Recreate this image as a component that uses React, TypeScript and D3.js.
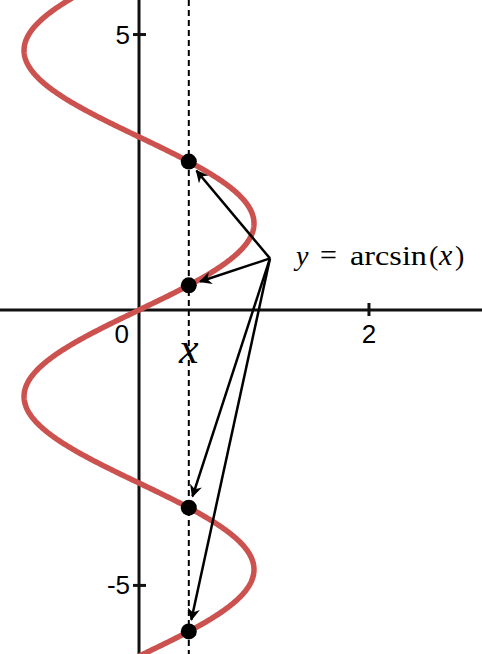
import React, { useEffect, useRef } from "react";
import * as d3 from "d3";

const W = 482;
const H = 654;

// domain
const xDomain = [-1.209, 2.983];
const yDomain = [-6.245, 5.627];
const xTicks = [2];
const yTicks = [5, -5];
const xTickLabels = ["2"];
const yTickLabels = ["5", "-5"];
const chosenX = 0.433;
// y values where the dashed line crosses the curve x = sin(y)
const hitY = [
  Math.asin(chosenX),
  Math.PI - Math.asin(chosenX),
  -Math.PI - Math.asin(chosenX),
  -2 * Math.PI + Math.asin(chosenX),
];
const labelAnchor = [1.139, 0.936];
// pieces of the formula label: text, italic, x offset from the label start
const labelParts = [
  { t: "y", it: true, dx: 0 },
  { t: "=", it: false, dx: 24 },
  { t: "arcsin", it: false, dx: 54 },
  { t: "(", it: false, dx: 133 },
  { t: "x", it: true, dx: 143 },
  { t: ")", it: false, dx: 159 },
];

const App = () => {
  const svgRef = useRef<SVGSVGElement>(null);

  useEffect(() => {
    document.body.style.margin = "0";
    const svg = d3.select(svgRef.current);
    svg.selectAll("*").remove();

    const x = d3.scaleLinear().domain(xDomain).range([0, W]);
    const y = d3.scaleLinear().domain(yDomain).range([H, 0]);

    // arrow head
    svg
      .append("defs")
      .append("marker")
      .attr("id", "head")
      .attr("viewBox", "0 0 10 10")
      .attr("refX", 9)
      .attr("refY", 5)
      .attr("markerWidth", 5)
      .attr("markerHeight", 5)
      .attr("markerUnits", "strokeWidth")
      .attr("orient", "auto")
      .append("path")
      .attr("d", "M0,0 L10,5 L0,10 L3,5 Z")
      .attr("fill", "#000");

    // axes
    svg
      .append("line")
      .attr("x1", 0)
      .attr("x2", W)
      .attr("y1", y(0))
      .attr("y2", y(0))
      .attr("stroke", "#111")
      .attr("stroke-width", 3);
    svg
      .append("line")
      .attr("x1", x(0))
      .attr("x2", x(0))
      .attr("y1", 0)
      .attr("y2", H)
      .attr("stroke", "#111")
      .attr("stroke-width", 3);

    const sans = "Liberation Sans, Arial, sans-serif";
    xTicks.forEach((t, i) => {
      svg
        .append("line")
        .attr("x1", x(t))
        .attr("x2", x(t))
        .attr("y1", y(0) - 7)
        .attr("y2", y(0) + 6)
        .attr("stroke", "#111")
        .attr("stroke-width", 3);
      svg
        .append("text")
        .attr("x", x(t))
        .attr("y", y(0) + 33)
        .attr("text-anchor", "middle")
        .attr("font-family", sans)
        .attr("font-size", 26)
        .text(xTickLabels[i]);
    });
    yTicks.forEach((t, i) => {
      svg
        .append("line")
        .attr("x1", x(0) - 6)
        .attr("x2", x(0) + 7)
        .attr("y1", y(t))
        .attr("y2", y(t))
        .attr("stroke", "#111")
        .attr("stroke-width", 3);
      svg
        .append("text")
        .attr("x", x(0) - 9)
        .attr("y", y(t) + 9)
        .attr("text-anchor", "end")
        .attr("font-family", sans)
        .attr("font-size", 26)
        .text(yTickLabels[i]);
    });
    svg
      .append("text")
      .attr("x", x(0) - 10)
      .attr("y", y(0) + 33)
      .attr("text-anchor", "end")
      .attr("font-family", sans)
      .attr("font-size", 26)
      .text("0");

    // the curve x = sin(y)
    const ys = d3.range(yDomain[0] - 0.1, yDomain[1] + 0.1, 0.02);
    const line = d3
      .line<number>()
      .x((v) => x(Math.sin(v)))
      .y((v) => y(v));
    svg
      .append("path")
      .datum(ys)
      .attr("d", line)
      .attr("fill", "none")
      .attr("stroke", "#cc5250")
      .attr("stroke-width", 5.5);

    // dashed vertical line
    svg
      .append("line")
      .attr("x1", x(chosenX))
      .attr("x2", x(chosenX))
      .attr("y1", 0)
      .attr("y2", H)
      .attr("stroke", "#000")
      .attr("stroke-width", 2)
      .attr("stroke-dasharray", "6,4");

    // points
    svg
      .selectAll(".pt")
      .data(hitY)
      .enter()
      .append("circle")
      .attr("cx", x(chosenX))
      .attr("cy", (d) => y(d))
      .attr("r", 8)
      .attr("fill", "#000");

    // arrows
    const ax = x(labelAnchor[0]);
    const ay = y(labelAnchor[1]);
    hitY.forEach((d) => {
      const px = x(chosenX);
      const py = y(d);
      const dx = px - ax;
      const dy = py - ay;
      const len = Math.sqrt(dx * dx + dy * dy);
      const gap = 12;
      svg
        .append("line")
        .attr("x1", ax)
        .attr("y1", ay)
        .attr("x2", px - (dx / len) * gap)
        .attr("y2", py - (dy / len) * gap)
        .attr("stroke", "#000")
        .attr("stroke-width", 2.5)
        .attr("marker-end", "url(#head)");
    });

    // y = arcsin(x)
    const serif = "Liberation Serif, Times New Roman, serif";
    const lx = 296;
    const lbl = svg
      .append("text")
      .attr("y", ay + 7)
      .attr("font-family", serif)
      .attr("font-size", 28);
    labelParts.forEach((p) => {
      const ts = lbl
        .append("tspan")
        .attr("x", lx + p.dx)
        .attr("font-style", p.it ? "italic" : "normal")
        .text(p.t);
      if (p.t === "arcsin") {
        ts.attr("textLength", 77).attr("lengthAdjust", "spacingAndGlyphs");
      }
      if (p.t === "=") ts.attr("font-size", 30);
      if (p.t === "x") ts.attr("font-size", 30);
    });

    svg
      .append("text")
      .attr("x", x(chosenX))
      .attr("y", y(0) + 53)
      .attr("text-anchor", "middle")
      .attr("font-family", serif)
      .attr("font-style", "italic")
      .attr("font-size", 44)
      .text("x");
  }, []);

  return (
    <svg
      ref={svgRef}
      width={W}
      height={H}
      style={{ position: "absolute", left: 0, top: 0, background: "#fff" }}
    ></svg>
  );
};

export default App;
